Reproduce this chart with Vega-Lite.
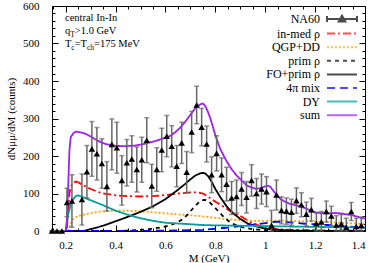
{
 "$schema": "https://vega.github.io/schema/vega-lite/v6.json",
 "width": 313, "height": 225,
 "autosize": {"type": "none"},
 "padding": {"left": 52, "top": 6, "right": 9, "bottom": 32},
 "background": "white",
 "config": {
  "font": "Liberation Serif",
  "view": {"stroke": "black", "strokeWidth": 1},
  "axis": {"grid": false, "domain": false, "labelFont": "Liberation Serif", "labelFontSize": 11, "labelColor": "black", "titleFont": "Liberation Serif", "titleFontSize": 11, "titleFontWeight": "normal", "titleColor": "black", "tickColor": "black", "tickWidth": 1},
  "legend": {"orient": "none", "legendX": 283, "legendY": 6, "labelAlign": "right", "labelOffset": -29, "symbolSize": 144, "symbolStrokeWidth": 2, "rowPadding": 0.6, "padding": 0, "labelFont": "Liberation Serif", "labelFontSize": 12, "labelColor": "black", "labelLimit": 200, "symbolOffset": 0}
 },
 "datasets": {
  "curves": [
   {"s":"in-med ρ","M":0.145,"v":0},{"s":"in-med ρ","M":0.2,"v":0},{"s":"in-med ρ","M":0.205,"v":10},{"s":"in-med ρ","M":0.21,"v":60},{"s":"in-med ρ","M":0.215,"v":100},{"s":"in-med ρ","M":0.22,"v":118},{"s":"in-med ρ","M":0.23,"v":128},{"s":"in-med ρ","M":0.24,"v":132},{"s":"in-med ρ","M":0.25,"v":130},{"s":"in-med ρ","M":0.27,"v":122},{"s":"in-med ρ","M":0.3,"v":112},{"s":"in-med ρ","M":0.33,"v":104},{"s":"in-med ρ","M":0.36,"v":99},{"s":"in-med ρ","M":0.4,"v":95},{"s":"in-med ρ","M":0.45,"v":93},{"s":"in-med ρ","M":0.5,"v":92},{"s":"in-med ρ","M":0.55,"v":93},{"s":"in-med ρ","M":0.6,"v":96},{"s":"in-med ρ","M":0.65,"v":100},{"s":"in-med ρ","M":0.7,"v":103},{"s":"in-med ρ","M":0.73,"v":103},{"s":"in-med ρ","M":0.75,"v":100},{"s":"in-med ρ","M":0.77,"v":92},{"s":"in-med ρ","M":0.8,"v":78},{"s":"in-med ρ","M":0.83,"v":66},{"s":"in-med ρ","M":0.87,"v":48},{"s":"in-med ρ","M":0.9,"v":40},{"s":"in-med ρ","M":0.94,"v":24},{"s":"in-med ρ","M":0.97,"v":16},{"s":"in-med ρ","M":1.0,"v":9},{"s":"in-med ρ","M":1.05,"v":5},{"s":"in-med ρ","M":1.1,"v":3},{"s":"in-med ρ","M":1.2,"v":2},{"s":"in-med ρ","M":1.3,"v":1},{"s":"in-med ρ","M":1.4,"v":1},
   {"s":"QGP+DD","M":0.145,"v":0},{"s":"QGP+DD","M":0.21,"v":0},{"s":"QGP+DD","M":0.215,"v":8},{"s":"QGP+DD","M":0.22,"v":20},{"s":"QGP+DD","M":0.23,"v":32},{"s":"QGP+DD","M":0.25,"v":40},{"s":"QGP+DD","M":0.28,"v":45},{"s":"QGP+DD","M":0.32,"v":50},{"s":"QGP+DD","M":0.36,"v":53},{"s":"QGP+DD","M":0.4,"v":54},{"s":"QGP+DD","M":0.45,"v":54},{"s":"QGP+DD","M":0.5,"v":53},{"s":"QGP+DD","M":0.55,"v":50},{"s":"QGP+DD","M":0.6,"v":47},{"s":"QGP+DD","M":0.65,"v":44},{"s":"QGP+DD","M":0.7,"v":42},{"s":"QGP+DD","M":0.75,"v":39},{"s":"QGP+DD","M":0.8,"v":35},{"s":"QGP+DD","M":0.85,"v":31},{"s":"QGP+DD","M":0.9,"v":29},{"s":"QGP+DD","M":0.95,"v":27},{"s":"QGP+DD","M":1.0,"v":27},{"s":"QGP+DD","M":1.05,"v":28},{"s":"QGP+DD","M":1.1,"v":27},{"s":"QGP+DD","M":1.15,"v":26},{"s":"QGP+DD","M":1.2,"v":25},{"s":"QGP+DD","M":1.25,"v":24},{"s":"QGP+DD","M":1.3,"v":22},{"s":"QGP+DD","M":1.35,"v":20},{"s":"QGP+DD","M":1.4,"v":18},
   {"s":"prim ρ","M":0.145,"v":0},{"s":"prim ρ","M":0.4,"v":0},{"s":"prim ρ","M":0.45,"v":1},{"s":"prim ρ","M":0.5,"v":3},{"s":"prim ρ","M":0.55,"v":6},{"s":"prim ρ","M":0.6,"v":12},{"s":"prim ρ","M":0.63,"v":18},{"s":"prim ρ","M":0.65,"v":24},{"s":"prim ρ","M":0.67,"v":32},{"s":"prim ρ","M":0.69,"v":45},{"s":"prim ρ","M":0.71,"v":60},{"s":"prim ρ","M":0.73,"v":74},{"s":"prim ρ","M":0.745,"v":82},{"s":"prim ρ","M":0.76,"v":83},{"s":"prim ρ","M":0.775,"v":78},{"s":"prim ρ","M":0.79,"v":68},{"s":"prim ρ","M":0.81,"v":54},{"s":"prim ρ","M":0.83,"v":40},{"s":"prim ρ","M":0.85,"v":28},{"s":"prim ρ","M":0.87,"v":19},{"s":"prim ρ","M":0.9,"v":11},{"s":"prim ρ","M":0.95,"v":5},{"s":"prim ρ","M":1.0,"v":2},{"s":"prim ρ","M":1.1,"v":1},{"s":"prim ρ","M":1.4,"v":0},
   {"s":"FO+prim ρ","M":0.145,"v":0},{"s":"FO+prim ρ","M":0.27,"v":0},{"s":"FO+prim ρ","M":0.3,"v":5},{"s":"FO+prim ρ","M":0.35,"v":14},{"s":"FO+prim ρ","M":0.4,"v":26},{"s":"FO+prim ρ","M":0.45,"v":38},{"s":"FO+prim ρ","M":0.5,"v":51},{"s":"FO+prim ρ","M":0.55,"v":66},{"s":"FO+prim ρ","M":0.6,"v":85},{"s":"FO+prim ρ","M":0.65,"v":110},{"s":"FO+prim ρ","M":0.68,"v":126},{"s":"FO+prim ρ","M":0.7,"v":138},{"s":"FO+prim ρ","M":0.72,"v":148},{"s":"FO+prim ρ","M":0.74,"v":154},{"s":"FO+prim ρ","M":0.75,"v":155},{"s":"FO+prim ρ","M":0.76,"v":153},{"s":"FO+prim ρ","M":0.77,"v":147},{"s":"FO+prim ρ","M":0.78,"v":137},{"s":"FO+prim ρ","M":0.79,"v":125},{"s":"FO+prim ρ","M":0.8,"v":112},{"s":"FO+prim ρ","M":0.82,"v":90},{"s":"FO+prim ρ","M":0.845,"v":66},{"s":"FO+prim ρ","M":0.87,"v":48},{"s":"FO+prim ρ","M":0.9,"v":32},{"s":"FO+prim ρ","M":0.93,"v":20},{"s":"FO+prim ρ","M":0.965,"v":12},{"s":"FO+prim ρ","M":1.0,"v":6},{"s":"FO+prim ρ","M":1.05,"v":3},{"s":"FO+prim ρ","M":1.1,"v":1},{"s":"FO+prim ρ","M":1.2,"v":0},{"s":"FO+prim ρ","M":1.4,"v":0},
   {"s":"4π mix","M":0.145,"v":0},{"s":"4π mix","M":0.5,"v":0},{"s":"4π mix","M":0.6,"v":1},{"s":"4π mix","M":0.7,"v":2},{"s":"4π mix","M":0.75,"v":3},{"s":"4π mix","M":0.8,"v":6},{"s":"4π mix","M":0.85,"v":9},{"s":"4π mix","M":0.9,"v":13},{"s":"4π mix","M":0.95,"v":17},{"s":"4π mix","M":1.0,"v":21},{"s":"4π mix","M":1.03,"v":24},{"s":"4π mix","M":1.05,"v":25},{"s":"4π mix","M":1.08,"v":24},{"s":"4π mix","M":1.1,"v":23},{"s":"4π mix","M":1.15,"v":20},{"s":"4π mix","M":1.2,"v":18},{"s":"4π mix","M":1.25,"v":16},{"s":"4π mix","M":1.3,"v":13},{"s":"4π mix","M":1.35,"v":11},{"s":"4π mix","M":1.4,"v":9},
   {"s":"DY","M":0.145,"v":0},{"s":"DY","M":0.2,"v":0},{"s":"DY","M":0.205,"v":20},{"s":"DY","M":0.21,"v":45},{"s":"DY","M":0.22,"v":70},{"s":"DY","M":0.23,"v":85},{"s":"DY","M":0.24,"v":93},{"s":"DY","M":0.25,"v":95},{"s":"DY","M":0.27,"v":90},{"s":"DY","M":0.3,"v":82},{"s":"DY","M":0.33,"v":74},{"s":"DY","M":0.36,"v":66},{"s":"DY","M":0.4,"v":54},{"s":"DY","M":0.45,"v":43},{"s":"DY","M":0.5,"v":34},{"s":"DY","M":0.55,"v":27},{"s":"DY","M":0.6,"v":22},{"s":"DY","M":0.65,"v":20},{"s":"DY","M":0.7,"v":18},{"s":"DY","M":0.75,"v":16},{"s":"DY","M":0.8,"v":15},{"s":"DY","M":0.9,"v":14},{"s":"DY","M":1.0,"v":13},{"s":"DY","M":1.1,"v":12},{"s":"DY","M":1.2,"v":11},{"s":"DY","M":1.3,"v":10},{"s":"DY","M":1.4,"v":9},
   {"s":"sum","M":0.145,"v":0},{"s":"sum","M":0.2,"v":0},{"s":"sum","M":0.205,"v":30},{"s":"sum","M":0.21,"v":120},{"s":"sum","M":0.215,"v":215},{"s":"sum","M":0.22,"v":250},{"s":"sum","M":0.23,"v":260},{"s":"sum","M":0.24,"v":265},{"s":"sum","M":0.26,"v":263},{"s":"sum","M":0.28,"v":259},{"s":"sum","M":0.3,"v":252},{"s":"sum","M":0.32,"v":244},{"s":"sum","M":0.34,"v":237},{"s":"sum","M":0.36,"v":232},{"s":"sum","M":0.4,"v":227},{"s":"sum","M":0.44,"v":226},{"s":"sum","M":0.48,"v":228},{"s":"sum","M":0.52,"v":233},{"s":"sum","M":0.56,"v":240},{"s":"sum","M":0.6,"v":249},{"s":"sum","M":0.62,"v":254},{"s":"sum","M":0.64,"v":264},{"s":"sum","M":0.66,"v":276},{"s":"sum","M":0.68,"v":292},{"s":"sum","M":0.7,"v":310},{"s":"sum","M":0.72,"v":328},{"s":"sum","M":0.74,"v":338},{"s":"sum","M":0.75,"v":340},{"s":"sum","M":0.76,"v":333},{"s":"sum","M":0.77,"v":318},{"s":"sum","M":0.78,"v":300},{"s":"sum","M":0.79,"v":278},{"s":"sum","M":0.8,"v":255},{"s":"sum","M":0.82,"v":218},{"s":"sum","M":0.845,"v":186},{"s":"sum","M":0.865,"v":165},{"s":"sum","M":0.885,"v":148},{"s":"sum","M":0.905,"v":135},{"s":"sum","M":0.925,"v":122},{"s":"sum","M":0.945,"v":116},{"s":"sum","M":0.965,"v":112},{"s":"sum","M":0.985,"v":115},{"s":"sum","M":1.0,"v":119},{"s":"sum","M":1.01,"v":121},{"s":"sum","M":1.02,"v":118},{"s":"sum","M":1.035,"v":105},{"s":"sum","M":1.06,"v":86},{"s":"sum","M":1.08,"v":78},{"s":"sum","M":1.1,"v":72},{"s":"sum","M":1.12,"v":69},{"s":"sum","M":1.14,"v":66},{"s":"sum","M":1.16,"v":61},{"s":"sum","M":1.18,"v":55},{"s":"sum","M":1.2,"v":50},{"s":"sum","M":1.22,"v":48},{"s":"sum","M":1.25,"v":47},{"s":"sum","M":1.28,"v":48},{"s":"sum","M":1.3,"v":47},{"s":"sum","M":1.32,"v":45},{"s":"sum","M":1.35,"v":42},{"s":"sum","M":1.38,"v":36},{"s":"sum","M":1.4,"v":33}
  ],
  "na60": [
   {"M":0.145,"y":0,"err":0},{"M":0.165,"y":0,"err":0},{"M":0.185,"y":0,"err":0},{"M":0.205,"y":76,"err":38},{"M":0.225,"y":80,"err":70},{"M":0.265,"y":84,"err":68},{"M":0.285,"y":158,"err":70},{"M":0.305,"y":219,"err":73},{"M":0.325,"y":206,"err":70},{"M":0.345,"y":180,"err":66},{"M":0.365,"y":119,"err":66},{"M":0.385,"y":231,"err":68},{"M":0.405,"y":222,"err":68},{"M":0.425,"y":135,"err":66},{"M":0.445,"y":182,"err":62},{"M":0.465,"y":192,"err":62},{"M":0.485,"y":164,"err":60},{"M":0.505,"y":190,"err":60},{"M":0.525,"y":242,"err":60},{"M":0.545,"y":120,"err":58},{"M":0.565,"y":164,"err":58},{"M":0.585,"y":216,"err":58},{"M":0.605,"y":253,"err":55},{"M":0.625,"y":226,"err":55},{"M":0.645,"y":173,"err":55},{"M":0.665,"y":235,"err":55},{"M":0.685,"y":157,"err":55},{"M":0.705,"y":264,"err":55},{"M":0.725,"y":336,"err":50},{"M":0.745,"y":277,"err":50},{"M":0.765,"y":232,"err":48},{"M":0.785,"y":150,"err":48},{"M":0.805,"y":207,"err":47},{"M":0.825,"y":150,"err":45},{"M":0.845,"y":125,"err":45},{"M":0.865,"y":88,"err":44},{"M":0.885,"y":92,"err":44},{"M":0.905,"y":112,"err":44},{"M":0.925,"y":90,"err":42},{"M":0.945,"y":135,"err":42},{"M":0.965,"y":100,"err":40},{"M":0.985,"y":112,"err":40},{"M":1.005,"y":105,"err":40},{"M":1.025,"y":15,"err":40},{"M":1.045,"y":96,"err":40},{"M":1.065,"y":55,"err":36},{"M":1.085,"y":53,"err":35},{"M":1.105,"y":50,"err":35},{"M":1.125,"y":81,"err":34},{"M":1.145,"y":70,"err":32},{"M":1.165,"y":45,"err":32},{"M":1.185,"y":57,"err":30},{"M":1.205,"y":20,"err":28},{"M":1.225,"y":24,"err":28},{"M":1.245,"y":52,"err":28},{"M":1.265,"y":40,"err":26},{"M":1.285,"y":16,"err":25},{"M":1.305,"y":19,"err":25},{"M":1.325,"y":10,"err":24},{"M":1.345,"y":52,"err":24},{"M":1.365,"y":12,"err":22},{"M":1.385,"y":15,"err":22}
  ]
 },
 "resolve": {"axis": {"x": "independent", "y": "independent"}},
 "layer": [
  {
   "data": {"name": "curves"},
   "mark": {"type": "line", "strokeWidth": 1.8, "clip": true},
   "encoding": {
    "x": {"field": "M", "type": "quantitative", "scale": {"domain": [0.145, 1.4], "nice": false, "zero": false}, "axis": {"orient": "bottom", "values": [0.2,0.4,0.6,0.8,1,1.2,1.4], "format": "~g", "ticks": false, "labelPadding": 8, "title": "M (GeV)", "titlePadding": 2}},
    "y": {"field": "v", "type": "quantitative", "scale": {"domain": [0, 600], "nice": false, "clamp": true}, "axis": {"orient": "left", "values": [0,100,200,300,400,500,600], "ticks": false, "labelPadding": 13, "title": "dNμμ/dM (counts)", "titlePadding": 6}},
    "color": {"field": "s", "type": "nominal", "scale": {"domain": ["NA60","in-med ρ","QGP+DD","prim ρ","FO+prim ρ","4π mix","DY","sum"], "range": ["black","#ff0000","#ffa500","black","black","#0000ff","#009b9b","#a020f0"]}, "legend": {"title": null}},
    "strokeDash": {"field": "s", "type": "nominal", "scale": {"domain": ["NA60","in-med ρ","QGP+DD","prim ρ","FO+prim ρ","4π mix","DY","sum"], "range": [[1,0],[8,3,2,3],[2,2],[4,4],[1,0],[8,5],[1,0],[1,0]]}, "legend": {"title": null}}
   }
  },
  {
   "data": {"name": "na60"},
   "mark": {"type": "errorbar", "ticks": {"size": 5}, "color": "#666666", "thickness": 1.5},
   "encoding": {
    "x": {"field": "M", "type": "quantitative", "axis": null},
    "y": {"field": "y", "type": "quantitative", "axis": null},
    "yError": {"field": "err"}
   }
  },
  {
   "data": {"name": "na60"},
   "mark": {"type": "point", "shape": "triangle-up", "filled": true, "color": "black", "size": 42, "opacity": 1},
   "encoding": {
    "x": {"field": "M", "type": "quantitative", "axis": {"orient": "top", "values": [0.15,0.2,0.25,0.3,0.35,0.4,0.45,0.5,0.55,0.6,0.65,0.7,0.75,0.8,0.85,0.9,0.95,1,1.05,1.1,1.15,1.2,1.25,1.3,1.35,1.4], "labels": false, "title": null, "tickSize": {"condition": {"test": "abs(datum.value*5 - round(datum.value*5)) < 0.001", "value": -6}, "value": -3}}},
    "y": {"field": "y", "type": "quantitative", "axis": {"orient": "right", "values": [0,20,40,60,80,100,120,140,160,180,200,220,240,260,280,300,320,340,360,380,400,420,440,460,480,500,520,540,560,580,600], "labels": false, "title": null, "tickSize": {"condition": {"test": "datum.value % 100 === 0", "value": -6}, "value": -3}}}
   }
  },
  {
   "data": {"name": "na60"},
   "transform": [{"filter": "false"}],
   "mark": {"type": "point", "filled": true, "size": 42},
   "encoding": {
    "x": {"field": "M", "type": "quantitative", "axis": {"orient": "bottom", "values": [0.15,0.2,0.25,0.3,0.35,0.4,0.45,0.5,0.55,0.6,0.65,0.7,0.75,0.8,0.85,0.9,0.95,1,1.05,1.1,1.15,1.2,1.25,1.3,1.35,1.4], "labels": false, "title": null, "tickSize": {"condition": {"test": "abs(datum.value*5 - round(datum.value*5)) < 0.001", "value": -6}, "value": -3}}},
    "y": {"field": "y", "type": "quantitative", "axis": {"orient": "left", "values": [0,20,40,60,80,100,120,140,160,180,200,220,240,260,280,300,320,340,360,380,400,420,440,460,480,500,520,540,560,580,600], "labels": false, "title": null, "tickSize": {"condition": {"test": "datum.value % 100 === 0", "value": -6}, "value": -3}}},
    "color": {"field": "s", "type": "nominal", "scale": {"domain": ["NA60","in-med ρ","QGP+DD","prim ρ","FO+prim ρ","4π mix","DY","sum"], "range": ["black","#ff0000","#ffa500","black","black","#0000ff","#009b9b","#a020f0"]}, "legend": {"title": null}},
    "shape": {"field": "s", "type": "nominal", "scale": {"domain": ["NA60","in-med ρ","QGP+DD","prim ρ","FO+prim ρ","4π mix","DY","sum"], "range": ["M-2.5,0H2.5M-2.5,-0.5V0.5M2.5,-0.5V0.5M-0.55,0.4L0,-0.55L0.55,0.4Z","M-2.5,0H2.5","M-2.5,0H2.5","M-2.5,0H2.5","M-2.5,0H2.5","M-2.5,0H2.5","M-2.5,0H2.5","M-2.5,0H2.5"]}, "legend": {"title": null}}
   }
  },
  {"data": {"values": [{}]}, "mark": {"type": "text", "align": "left", "baseline": "alphabetic", "fontSize": 10.5, "font": "Liberation Serif", "color": "black"}, "encoding": {"x": {"datum": 0.197, "type": "quantitative", "axis": null}, "y": {"datum": 561, "type": "quantitative", "axis": null}, "text": {"value": "central In-In"}}},
  {"data": {"values": [{}]}, "mark": {"type": "text", "align": "left", "baseline": "alphabetic", "fontSize": 10.5, "font": "Liberation Serif", "color": "black"}, "encoding": {"x": {"datum": 0.197, "type": "quantitative", "axis": null}, "y": {"datum": 525, "type": "quantitative", "axis": null}, "text": {"value": "q"}}},
  {"data": {"values": [{}]}, "mark": {"type": "text", "align": "left", "baseline": "alphabetic", "fontSize": 7.5, "font": "Liberation Serif", "color": "black", "dx": 5.3, "dy": 3}, "encoding": {"x": {"datum": 0.197, "type": "quantitative", "axis": null}, "y": {"datum": 525, "type": "quantitative", "axis": null}, "text": {"value": "T"}}},
  {"data": {"values": [{}]}, "mark": {"type": "text", "align": "left", "baseline": "alphabetic", "fontSize": 10.5, "font": "Liberation Serif", "color": "black", "dx": 9.9}, "encoding": {"x": {"datum": 0.197, "type": "quantitative", "axis": null}, "y": {"datum": 525, "type": "quantitative", "axis": null}, "text": {"value": ">1.0 GeV"}}},
  {"data": {"values": [{}]}, "mark": {"type": "text", "align": "left", "baseline": "alphabetic", "fontSize": 10.5, "font": "Liberation Serif", "color": "black"}, "encoding": {"x": {"datum": 0.197, "type": "quantitative", "axis": null}, "y": {"datum": 492, "type": "quantitative", "axis": null}, "text": {"value": "T"}}},
  {"data": {"values": [{}]}, "mark": {"type": "text", "align": "left", "baseline": "alphabetic", "fontSize": 7.5, "font": "Liberation Serif", "color": "black", "dx": 6.4, "dy": 3}, "encoding": {"x": {"datum": 0.197, "type": "quantitative", "axis": null}, "y": {"datum": 492, "type": "quantitative", "axis": null}, "text": {"value": "c"}}},
  {"data": {"values": [{}]}, "mark": {"type": "text", "align": "left", "baseline": "alphabetic", "fontSize": 10.5, "font": "Liberation Serif", "color": "black", "dx": 9.7}, "encoding": {"x": {"datum": 0.197, "type": "quantitative", "axis": null}, "y": {"datum": 492, "type": "quantitative", "axis": null}, "text": {"value": "=T"}}},
  {"data": {"values": [{}]}, "mark": {"type": "text", "align": "left", "baseline": "alphabetic", "fontSize": 7.5, "font": "Liberation Serif", "color": "black", "dx": 22, "dy": 3}, "encoding": {"x": {"datum": 0.197, "type": "quantitative", "axis": null}, "y": {"datum": 492, "type": "quantitative", "axis": null}, "text": {"value": "ch"}}},
  {"data": {"values": [{}]}, "mark": {"type": "text", "align": "left", "baseline": "alphabetic", "fontSize": 10.5, "font": "Liberation Serif", "color": "black", "dx": 29.1}, "encoding": {"x": {"datum": 0.197, "type": "quantitative", "axis": null}, "y": {"datum": 492, "type": "quantitative", "axis": null}, "text": {"value": "=175 MeV"}}}
 ]
}
